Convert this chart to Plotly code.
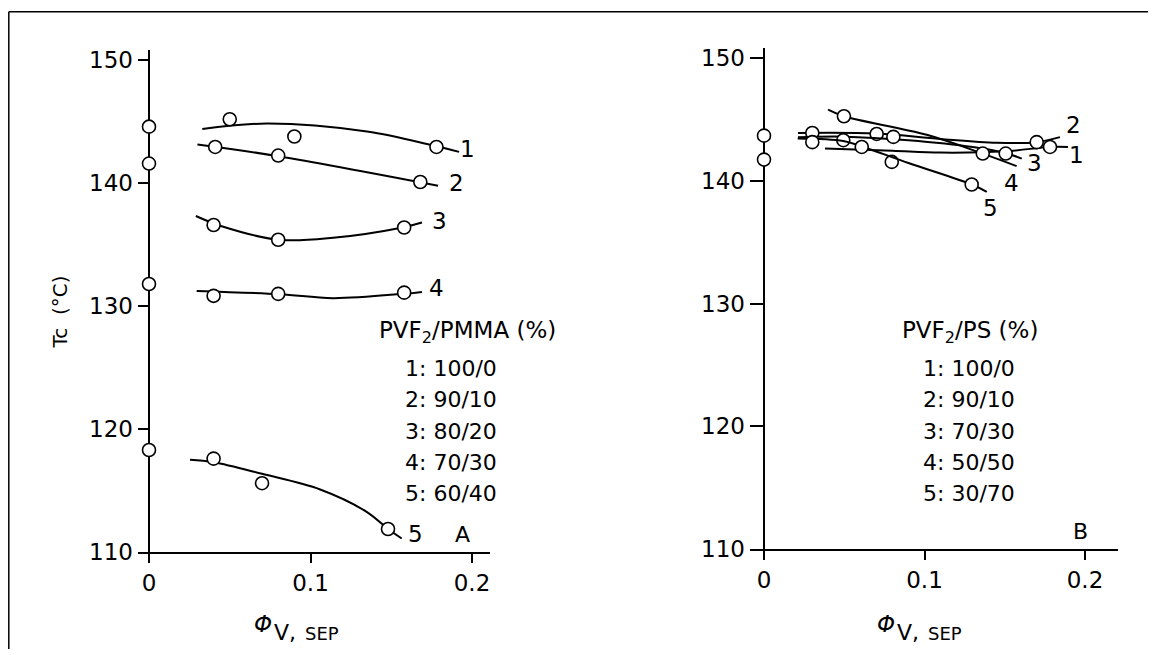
import plotly.graph_objects as go

# Page geometry: body has an 8px default margin; the captured page is squeezed
# vertically (~670 -> 655), so reference y-pixels are stretched by K when laid out.
PAGE_W = 1156
K = 670 / 655
OFF = 8
W = PAGE_W - 2 * OFF
H = 670 - 2 * OFF
FONT = "DejaVu Sans"

# ---------------- Panel A : PVF2/PMMA ----------------
a_zero_x = [0, 0, 0, 0]
a_zero_y = [144.6, 141.6, 131.8, 118.3]

a1_x = [0.050, 0.090, 0.178]
a1_y = [145.2, 143.8, 142.95]
a1_fit_x = [0.033, 0.073, 0.135, 0.176, 0.192]
a1_fit_y = [144.4, 144.85, 144.2, 143.06, 142.55]

a2_x = [0.041, 0.080, 0.168]
a2_y = [142.95, 142.25, 140.1]
a2_fit_x = [0.030, 0.080, 0.179]
a2_fit_y = [143.15, 142.2, 139.8]

a3_x = [0.040, 0.080, 0.158]
a3_y = [136.6, 135.4, 136.4]
a3_fit_x = [0.029, 0.045, 0.080, 0.114, 0.157, 0.169]
a3_fit_y = [137.33, 136.5, 135.4, 135.56, 136.4, 136.8]

a4_x = [0.040, 0.080, 0.158]
a4_y = [130.84, 131.0, 131.1]
a4_fit_x = [0.0295, 0.081, 0.114, 0.157, 0.169]
a4_fit_y = [131.24, 130.97, 130.65, 131.0, 131.16]

a5_x = [0.040, 0.070, 0.148]
a5_y = [117.6, 115.6, 111.87]
a5_fit_x = [0.0254, 0.040, 0.070, 0.106, 0.135, 0.148, 0.1565]
a5_fit_y = [117.5, 117.3, 116.36, 115.09, 113.25, 111.87, 111.1]

a_labels = ["1", "2", "3", "4", "5"]
a_label_x = [0.1975, 0.1907, 0.180, 0.1783, 0.1653]
a_label_y = [142.75, 140.03, 136.95, 131.5, 111.46]
a_legend_title = "PVF<sub>2</sub>/PMMA (%)"
a_legend_rows = ["1: 100/0", "2: 90/10", "3: 80/20", "4: 70/30", "5: 60/40"]

# ---------------- Panel B : PVF2/PS ----------------
b_zero_x = [0, 0]
b_zero_y = [143.68, 141.73]

b1_x = [0.0796, 0.1782]
b1_y = [141.54, 142.76]
b1_fit_x = [0.038, 0.080, 0.110, 0.150, 0.1782, 0.1894]
b1_fit_y = [142.63, 142.44, 142.3, 142.4, 142.76, 142.76]

b2_x = [0.0301, 0.0702, 0.1699]
b2_y = [143.90, 143.82, 143.15]
b2_fit_x = [0.0212, 0.0702, 0.1097, 0.145, 0.1699, 0.1844]
b2_fit_y = [143.9, 143.85, 143.41, 143.1, 143.15, 143.56]

b3_x = [0.0494, 0.0806, 0.1506]
b3_y = [143.31, 143.58, 142.22]
b3_fit_x = [0.0212, 0.050, 0.090, 0.130, 0.1506, 0.1606]
b3_fit_y = [143.55, 143.6, 143.3, 142.75, 142.25, 141.81]

b4_x = [0.0498, 0.1363]
b4_y = [145.26, 142.22]
b4_fit_x = [0.0399, 0.0498, 0.1014, 0.1363, 0.1574]
b4_fit_y = [145.8, 145.26, 143.75, 142.22, 141.2]

b5_x = [0.0301, 0.0609, 0.1294]
b5_y = [143.15, 142.76, 139.70]
b5_fit_x = [0.021, 0.0494, 0.0609, 0.090, 0.1294, 0.1388]
b5_fit_y = [143.45, 143.25, 142.8, 141.45, 139.7, 139.1]

b_labels = ["1", "2", "3", "4", "5"]
b_label_x = [0.195, 0.1931, 0.1688, 0.1539, 0.1414]
b_label_y = [142.11, 144.55, 141.46, 139.84, 137.8]
b_legend_title = "PVF<sub>2</sub>/PS (%)"
b_legend_rows = ["1: 100/0", "2: 90/10", "3: 70/30", "4: 50/50", "5: 30/70"]

x_ticks = [0, 0.1, 0.2]
x_ticktext = ["0", "0.1", "0.2"]
y_ticks = [110, 120, 130, 140, 150]


def px(x):
    """reference pixel x -> paper fraction"""
    return (x - OFF) / W


def py(y):
    """reference pixel y -> paper fraction"""
    return 1 - (y * K - OFF) / H


fig = go.Figure()
MARKER = dict(size=13, color="white", line=dict(color="black", width=1.6))


def add_series(fx, fy, xs, ys, xa, ya):
    fig.add_trace(go.Scatter(x=fx, y=fy, mode="lines", xaxis=xa, yaxis=ya,
                             line=dict(color="black", width=2, shape="spline", smoothing=1.0),
                             showlegend=False, hoverinfo="skip"))
    fig.add_trace(go.Scatter(x=xs, y=ys, mode="markers", xaxis=xa, yaxis=ya,
                             marker=MARKER, showlegend=False, cliponaxis=False))


for fx, fy, xs, ys in [(a1_fit_x, a1_fit_y, a1_x, a1_y), (a2_fit_x, a2_fit_y, a2_x, a2_y),
                       (a3_fit_x, a3_fit_y, a3_x, a3_y), (a4_fit_x, a4_fit_y, a4_x, a4_y),
                       (a5_fit_x, a5_fit_y, a5_x, a5_y)]:
    add_series(fx, fy, xs, ys, "x", "y")
fig.add_trace(go.Scatter(x=a_zero_x, y=a_zero_y, mode="markers", xaxis="x", yaxis="y",
                         marker=MARKER, showlegend=False, cliponaxis=False))

for fx, fy, xs, ys in [(b1_fit_x, b1_fit_y, b1_x, b1_y), (b2_fit_x, b2_fit_y, b2_x, b2_y),
                       (b3_fit_x, b3_fit_y, b3_x, b3_y), (b4_fit_x, b4_fit_y, b4_x, b4_y),
                       (b5_fit_x, b5_fit_y, b5_x, b5_y)]:
    add_series(fx, fy, xs, ys, "x2", "y2")
fig.add_trace(go.Scatter(x=b_zero_x, y=b_zero_y, mode="markers", xaxis="x2", yaxis="y2",
                         marker=MARKER, showlegend=False, cliponaxis=False))

tickfont = dict(family=FONT, size=23, color="black")


def xaxis_cfg(left_px, right_px, zero_px, ppu, anchor):
    return dict(domain=[px(left_px), px(right_px)],
                range=[(left_px - zero_px) / ppu, (right_px - zero_px) / ppu],
                showline=True, linewidth=2, linecolor="black",
                ticks="outside", ticklen=9, tickwidth=2, tickcolor="black",
                tickvals=x_ticks, ticktext=x_ticktext, tickfont=tickfont,
                showgrid=False, zeroline=True, zerolinewidth=2, zerolinecolor="black",
                anchor=anchor, fixedrange=True, ticklabelstandoff=0)


def yaxis_cfg(top_px, bottom_px, ppu, ticklen, anchor):
    return dict(domain=[py(bottom_px), py(top_px)],
                range=[110, 110 + (bottom_px - top_px) / ppu],
                showline=False, ticks="inside", ticklen=ticklen, tickwidth=2, tickcolor="black",
                tickvals=y_ticks, tickfont=tickfont, showgrid=False, zeroline=False,
                anchor=anchor, fixedrange=True, ticklabelstandoff=4)


fig.update_layout(
    width=W, height=H, autosize=False,
    margin=dict(l=0, r=0, t=0, b=0),
    paper_bgcolor="white", plot_bgcolor="white",
    font=dict(family=FONT, color="black"),
    xaxis=xaxis_cfg(138, 490, 149, 1615, "y"),
    yaxis=yaxis_cfg(47, 550, 12.32, 11, "x"),
    xaxis2=xaxis_cfg(750, 1118, 764, 1605, "y2"),
    yaxis2=yaxis_cfg(45, 547, 12.3, 14, "x2"),
)

ann = []
for t, x, y in zip(a_labels, a_label_x, a_label_y):
    ann.append(dict(text=t, x=x, y=y, xref="x", yref="y", showarrow=False,
                    font=dict(size=23), xanchor="center", yanchor="middle"))
for t, x, y in zip(b_labels, b_label_x, b_label_y):
    ann.append(dict(text=t, x=x, y=y, xref="x2", yref="y2", showarrow=False,
                    font=dict(size=23), xanchor="center", yanchor="middle"))
ann.append(dict(text="A", x=0.1944, y=111.46, xref="x", yref="y", showarrow=False,
                font=dict(size=22), xanchor="center", yanchor="middle"))
ann.append(dict(text="B", x=0.1975, y=111.46, xref="x2", yref="y2", showarrow=False,
                font=dict(size=22), xanchor="center", yanchor="middle"))

row_y = [366, 397, 429, 460, 491]
ann.append(dict(text=a_legend_title, x=px(377), y=py(330), xref="paper", yref="paper",
                showarrow=False, font=dict(size=23), xanchor="left", yanchor="middle"))
ann.append(dict(text=b_legend_title, x=px(900), y=py(330), xref="paper", yref="paper",
                showarrow=False, font=dict(size=23), xanchor="left", yanchor="middle"))
for t, yy in zip(a_legend_rows, row_y):
    ann.append(dict(text=t, x=px(403), y=py(yy), xref="paper", yref="paper",
                    showarrow=False, font=dict(size=22), xanchor="left", yanchor="middle"))
for t, yy in zip(b_legend_rows, row_y):
    ann.append(dict(text=t, x=px(921), y=py(yy), xref="paper", yref="paper",
                    showarrow=False, font=dict(size=22), xanchor="left", yanchor="middle"))

ann.append(dict(text="Tc  (°C)", x=px(60), y=py(310), xref="paper", yref="paper",
                showarrow=False, textangle=-90, font=dict(size=20),
                xanchor="center", yanchor="middle"))
for cx in (263, 886):
    ann.append(dict(text="<i>Φ</i>", x=px(cx), y=py(622), xref="paper", yref="paper",
                    showarrow=False, font=dict(size=23), xanchor="center", yanchor="middle"))
    ann.append(dict(text="V,", x=px(cx + 9), y=py(631), xref="paper", yref="paper",
                    showarrow=False, font=dict(size=22), xanchor="left", yanchor="middle"))
    ann.append(dict(text="SEP", x=px(cx + 40), y=py(632), xref="paper", yref="paper",
                    showarrow=False, font=dict(size=18), xanchor="left", yanchor="middle"))

fig.update_layout(annotations=ann)

# frame lines (top and left) at the page's 8px offset
fig.add_shape(type="line", xref="paper", yref="paper", x0=0.8 / W, y0=1 - 0.8 / H, x1=1, y1=1 - 0.8 / H,
              line=dict(color="black", width=1.5))
fig.add_shape(type="line", xref="paper", yref="paper", x0=0.8 / W, y0=1 - 0.8 / H, x1=0.8 / W, y1=0,
              line=dict(color="black", width=1.5))

fig.write_html("out.html")
